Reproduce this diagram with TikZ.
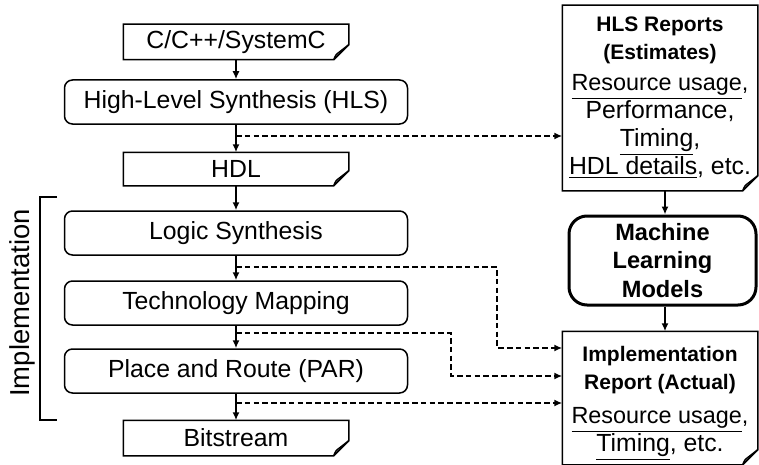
\documentclass[tikz,border=0pt]{standalone}
\usepackage{fontspec}
\setmainfont{Liberation Sans}
\usetikzlibrary{arrows.meta,positioning,calc}

\begin{document}
\begin{tikzpicture}[
  x=0.5pt, y=-0.5pt,
  font=\fontsize{12.4}{14}\selectfont,
  line width=0.75pt,
  stage/.style={
    draw,
    rounded corners=4pt,
    minimum width=171.5pt,
    minimum height=22pt,
    inner sep=0pt
  },
  doc/.style={
    inner sep=0pt,
    align=center,
    append after command={\pgfextra{
      \draw (\tikzlastnode.north west) -- (\tikzlastnode.north east)
        -- ([yshift=7.5pt]\tikzlastnode.south east)
        -- ([xshift=-7.5pt]\tikzlastnode.south east)
        -- (\tikzlastnode.south west) -- cycle;
      \draw ([yshift=7.5pt]\tikzlastnode.south east)
        -- ([shift={(-4.5pt,4pt)}]\tikzlastnode.south east)
        .. controls ([shift={(-6.5pt,2.5pt)}]\tikzlastnode.south east)
        .. ([xshift=-7.5pt]\tikzlastnode.south east);
    }}
  },
  mlbox/.style={
    draw,
    rounded corners=9pt,
    line width=1.5pt,
    align=center,
    minimum width=93.5pt,
    minimum height=44.5pt,
    font=\fontsize{11.8}{14.3}\selectfont\bfseries
  },
  arr/.style={-{Latex[length=4pt,width=3.5pt]}},
  dsh/.style={arr, dash pattern=on 2.8pt off 1.6pt}
]
  \useasboundingbox (0,0) rectangle (759,465);

  % design flow down the left
  \node[doc, minimum width=112pt, minimum height=17pt] (src) at (236,42) {C/C++/SystemC};
  \node[stage] (hls) at (236,102) {High-Level Synthesis (HLS)};
  \node[doc, minimum width=112pt, minimum height=16pt] (hdl) at (236,169) {HDL};
  \node[stage] (logic) at (236,233) {Logic Synthesis};
  \node[stage] (techmap) at (236,303) {Technology Mapping};
  \node[stage] (par) at (236,371) {Place and Route (PAR)};
  \node[doc, minimum width=112pt, minimum height=17pt] (bits) at (236,438) {Bitstream};

  % bracket round the implementation steps
  \node[rotate=90, font=\fontsize{13.7}{16}\selectfont] (impllabel) at (22,303) {Implementation};
  \coordinate (brtop) at (57,197);
  \coordinate (brbot) at (57,420);
  \draw (brtop) -- ++(-17,0) -- ($(brbot)+(-17,0)$) -- (brbot);

  % reports and models on the right
  \node[doc, minimum width=97pt, minimum height=92pt] (hlsrep) at (660,98)
    {{\fontsize{10.5}{12.5}\selectfont\bfseries HLS Reports}\\
     {\fontsize{10.5}{12.5}\selectfont\bfseries (Estimates)}\\[1.5pt]
     \fontsize{11.7}{13.7}\selectfont\underline{Resource usage},\\
     Performance,\\
     \underline{Timing},\\
     \underline{HDL details}, etc.};
  \node[mlbox] (mlm) at (662.5,260.5) {Machine\\Learning\\Models};
  \node[doc, minimum width=97pt, minimum height=66pt] (implrep) at (660,398)
    {{\fontsize{10.5}{12.5}\selectfont\bfseries\rule{0pt}{13pt}Implementation}\\
     {\fontsize{10.5}{12.5}\selectfont\bfseries Report (Actual)}\\[3pt]
     \fontsize{11.7}{14}\selectfont\underline{Resource usage},\\
     \underline{Timing}, etc.};

  \draw[arr] (src) -- (hls);
  \draw[arr] (hls) -- (hdl);
  \draw[arr] (hdl) -- (logic);
  \draw[arr] (logic) -- (techmap);
  \draw[arr] (techmap) -- (par);
  \draw[arr] (par) -- (bits);
  \draw[arr] (hlsrep.south -| 665,0) -- (mlm.north -| 665,0);
  \draw[arr] (mlm.south -| 665,0) -- (implrep.north -| 665,0);

  % taps off the main flow
  \coordinate (tapA) at (236,136);
  \coordinate (tapB) at (236,267);
  \coordinate (tapC) at (236,333);
  \coordinate (tapD) at (236,403);
  \coordinate (bendB) at (497,348);
  \coordinate (bendC) at (451,376);
  \draw[dsh] (tapA) -- (tapA -| hlsrep.west);
  \draw[dsh] (tapB) -| (bendB) -- (bendB -| implrep.west);
  \draw[dsh] (tapC) -| (bendC) -- (bendC -| implrep.west);
  \draw[dsh] (tapD) -- (tapD -| implrep.west);
\end{tikzpicture}
\end{document}
